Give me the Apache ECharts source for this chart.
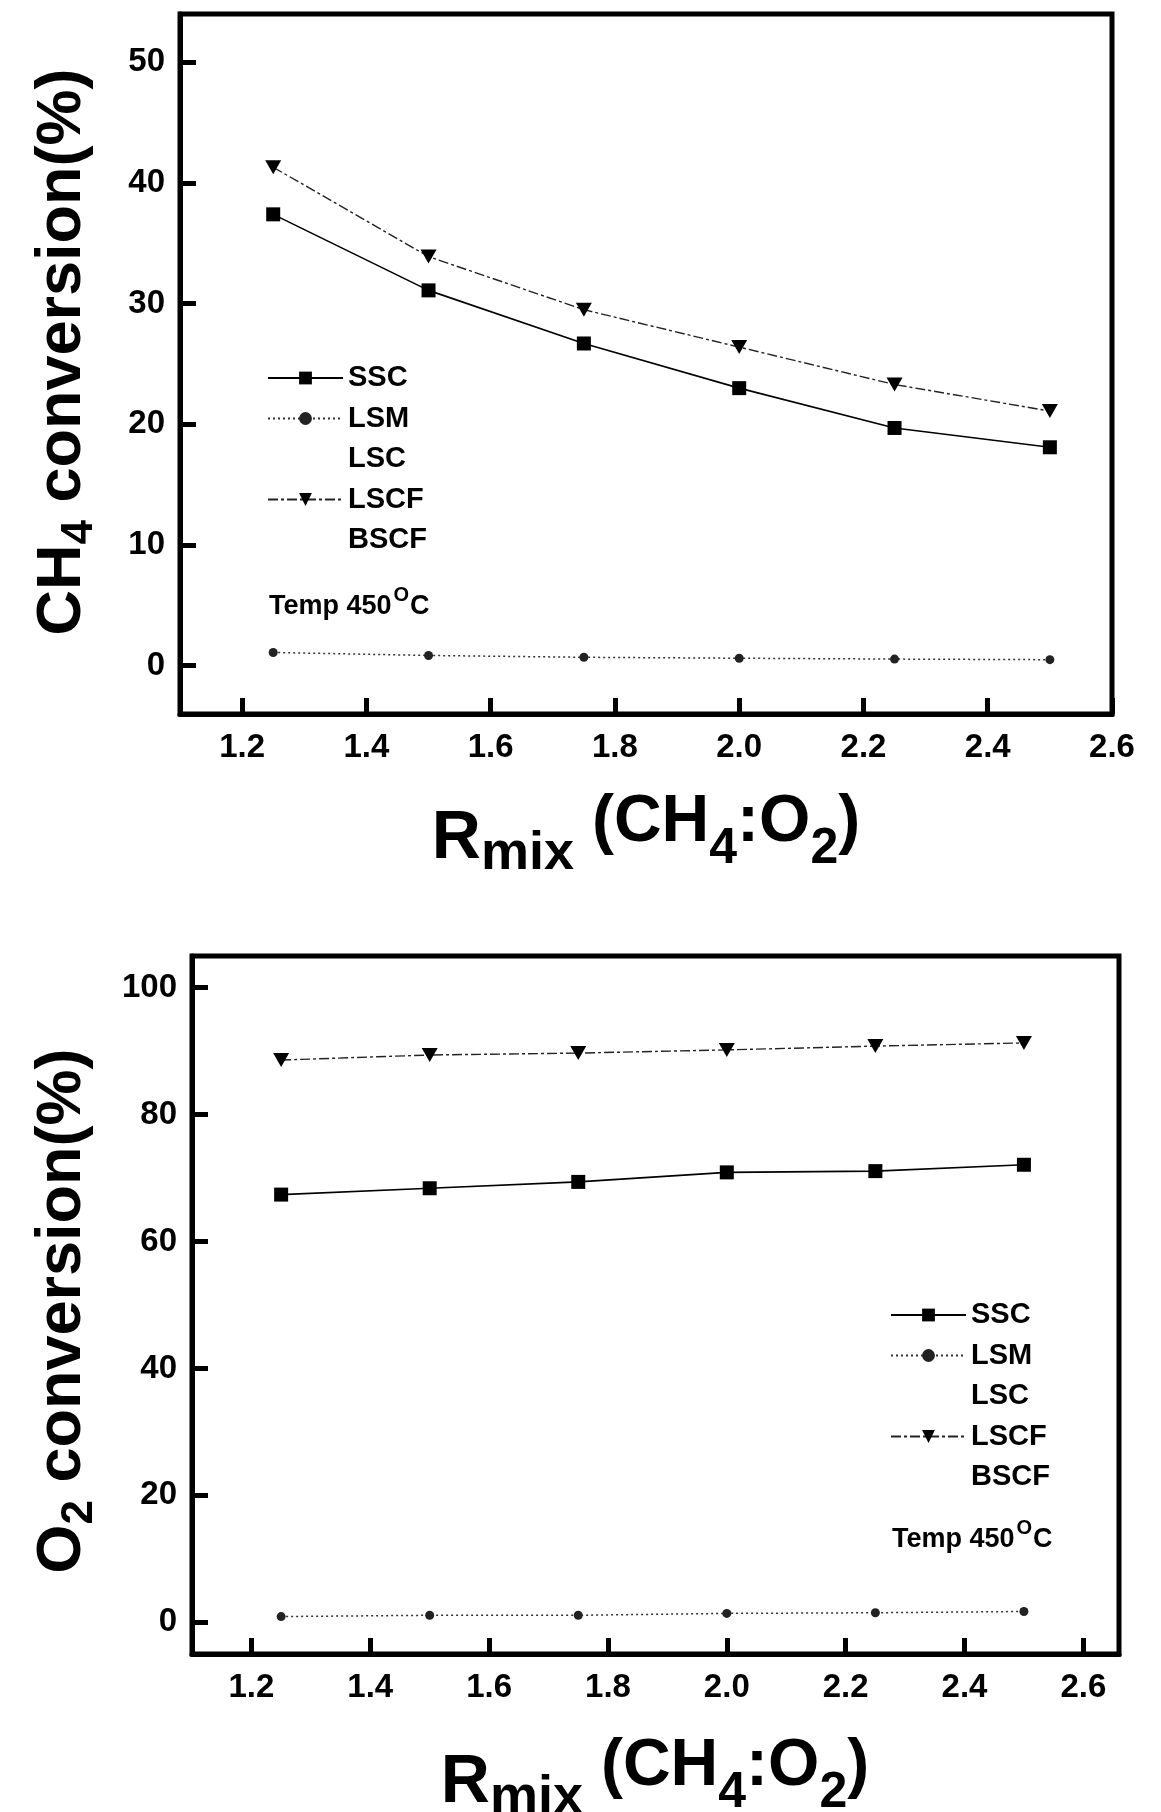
<!DOCTYPE html>
<html>
<head>
<meta charset="utf-8">
<script src="https://cdn.jsdelivr.net/npm/echarts@6/dist/echarts.min.js"></script>
<style>
html,body{margin:0;padding:0;background:#fff;}
#chart{width:1161px;height:1812px;}
</style>
</head>
<body>
<div id="chart"></div>
<script>
// ---- data ----
const xValues = [1.25, 1.5, 1.75, 2.0, 2.25, 2.5];
const seriesNames = ['SSC', 'LSM', 'LSC', 'LSCF', 'BSCF'];
// CH4 conversion (%)
const ch4SSC  = [37.4, 31.1, 26.7, 23.0, 19.7, 18.1];
const ch4LSM  = [1.1, 0.85, 0.7, 0.62, 0.55, 0.5];
const ch4LSCF = [41.3, 33.9, 29.5, 26.4, 23.3, 21.1];
// O2 conversion (%)
const o2SSC  = [67.4, 68.4, 69.4, 70.9, 71.1, 72.1];
const o2LSM  = [0.9, 1.1, 1.1, 1.4, 1.5, 1.7];
const o2LSCF = [88.6, 89.4, 89.7, 90.2, 90.8, 91.3];
const tempLabel = 'Temp 450';

const FONT = '"Liberation Sans", Arial, sans-serif';
const pairs = (ys) => xValues.map((x, i) => [x, ys[i]]);
const triDown = 'path://M0,0L20,0L10,17Z';

function makeSeries(grid, ssc, lsm, lscf) {
  const xi = grid, yi = grid;
  return [
    { name: 'SSC', type: 'line', xAxisIndex: xi, yAxisIndex: yi, data: pairs(ssc),
      symbol: 'rect', symbolSize: 14, color: '#000',
      lineStyle: { color: '#000', width: 1.6, type: 'solid' }, itemStyle: { color: '#000' } },
    { name: 'LSM', type: 'line', xAxisIndex: xi, yAxisIndex: yi, data: pairs(lsm),
      symbol: 'circle', symbolSize: 9, color: '#222',
      lineStyle: { color: '#333', width: 1.5, type: [2, 3] }, itemStyle: { color: '#222' } },
    { name: 'LSC', type: 'line', xAxisIndex: xi, yAxisIndex: yi, data: [],
      symbol: 'none', color: 'rgba(0,0,0,0)',
      lineStyle: { color: 'rgba(0,0,0,0)' }, itemStyle: { color: 'rgba(0,0,0,0)' } },
    { name: 'LSCF', type: 'line', xAxisIndex: xi, yAxisIndex: yi, data: pairs(lscf),
      symbol: triDown, symbolSize: [16, 14], color: '#000',
      lineStyle: { color: '#222', width: 1.4, type: [10, 3, 3, 3] }, itemStyle: { color: '#000' } },
    { name: 'BSCF', type: 'line', xAxisIndex: xi, yAxisIndex: yi, data: [],
      symbol: 'none', color: 'rgba(0,0,0,0)',
      lineStyle: { color: 'rgba(0,0,0,0)' }, itemStyle: { color: 'rgba(0,0,0,0)' } }
  ];
}

const tickLabel = () => ({ color: '#000', fontSize: 33, fontWeight: 'bold', fontFamily: FONT });
const tick = () => ({ show: true, inside: true, length: 16, lineStyle: { color: '#000', width: 5 } });
const axLine = () => ({ show: true, onZero: false, lineStyle: { color: '#000', width: 5 } });

function xAxis(grid, max, showMax) {
  return { gridIndex: grid, type: 'value', min: 1.1, max: max, splitNumber: 7,
    axisLine: axLine(), splitLine: { show: false }, axisTick: tick(),
    axisLabel: Object.assign({ margin: 17, showMinLabel: false, showMaxLabel: showMax,
      formatter: v => v.toFixed(1) }, tickLabel()) };
}
function yAxis(grid, min, max) {
  return { gridIndex: grid, type: 'value', min: min, max: max, splitNumber: 5,
    axisLine: axLine(), splitLine: { show: false }, axisTick: tick(),
    axisLabel: Object.assign({ margin: 15, showMinLabel: false, showMaxLabel: false }, tickLabel()) };
}

function legend(left, top) {
  return { data: seriesNames, orient: 'vertical', left: left, top: top, padding: 0,
    itemWidth: 75, itemHeight: 16, itemGap: 10.5, selectedMode: false,
    textStyle: { color: '#000', fontSize: 29, fontWeight: 'bold', fontFamily: FONT, lineHeight: 30 } };
}

const xTitleRich = {
  R: { fontSize: 68, lineHeight: 68, padding: [16, 0, 0, 0], verticalAlign: 'top', fontWeight: 'bold', fontFamily: FONT, fill: '#000' },
  m: { fontSize: 54, lineHeight: 54, padding: [38, 18, 0, 0], verticalAlign: 'top', fontWeight: 'bold', fontFamily: FONT, fill: '#000' },
  g: { fontSize: 66, lineHeight: 66, padding: [1, 0, 0, 0], verticalAlign: 'top', fontWeight: 'bold', fontFamily: FONT, fill: '#000' },
  s: { fontSize: 50, lineHeight: 50, padding: [35, 0, 0, 0], verticalAlign: 'top', fontWeight: 'bold', fontFamily: FONT, fill: '#000' }
};
const xTitleText = '{R|R}{m|mix}{g|(CH}{s|4}{g|:O}{s|2}{g|)}';
const yRich = {
  a: { fontSize: 63, lineHeight: 63, padding: [0, 0, 0, 0], verticalAlign: 'top', fontWeight: 'bold', fontFamily: FONT, fill: '#000' },
  b: { fontSize: 44, lineHeight: 44, padding: [26, 0, 0, 0], verticalAlign: 'top', fontWeight: 'bold', fontFamily: FONT, fill: '#000' }
};
const tempRich = {
  t: { fontSize: 27, lineHeight: 27, padding: [8, 0, 0, 0], verticalAlign: 'top', fontWeight: 'bold', fontFamily: FONT, fill: '#000' },
  o: { fontSize: 20, lineHeight: 20, padding: [0, 1, 0, 2], verticalAlign: 'top', fontWeight: 'bold', fontFamily: FONT, fill: '#000' }
};
const tempText = '{t|' + tempLabel + '}{o|O}{t|C}';

function textEl(x, y, text, rich, rotation, align) {
  return { type: 'text', x: x, y: y, rotation: rotation || 0, silent: true,
    style: { text: text, rich: rich, align: align || 'center', verticalAlign: 'middle', fill: '#000' } };
}

const chart = echarts.init(document.getElementById('chart'), null, { renderer: 'canvas' });
chart.setOption({
  animation: false,
  backgroundColor: '#fff',
  grid: [
    { left: 180, top: 14, width: 932, height: 700, show: true, borderColor: '#000', borderWidth: 5 },
    { left: 192, top: 956, width: 927, height: 698, show: true, borderColor: '#000', borderWidth: 5 }
  ],
  xAxis: [ xAxis(0, 2.6, true), xAxis(1, 2.66, false) ],
  yAxis: [ yAxis(0, -4, 54), yAxis(1, -5, 105) ],
  legend: [ legend(267, 363), legend(890, 1300) ],
  series: makeSeries(0, ch4SSC, ch4LSM, ch4LSCF).concat(makeSeries(1, o2SSC, o2LSM, o2LSCF)),
  graphic: [
    textEl(63, 352, '{a|CH}{b|4}{a| conversion(%)}', yRich, Math.PI / 2),
    textEl(63, 1311, '{a|O}{b|2}{a| conversion(%)}', yRich, Math.PI / 2),
    textEl(646, 823, xTitleText, xTitleRich, 0),
    textEl(655, 1767, xTitleText, xTitleRich, 0),
    textEl(269, 599, tempText, tempRich, 0, 'left'),
    textEl(892, 1532, tempText, tempRich, 0, 'left')
  ]
});
</script>
</body>
</html>
